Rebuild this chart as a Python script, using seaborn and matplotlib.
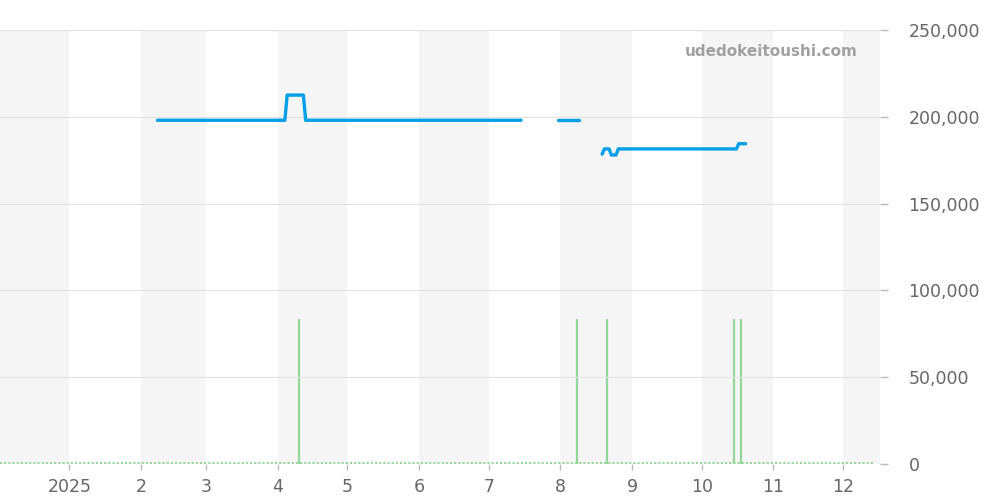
import matplotlib
matplotlib.use('Agg')
import matplotlib.pyplot as plt
import seaborn as sns
import pandas as pd

# price line, three separate runs (gaps between them)
seg_ids = [1, 1, 1, 1, 1, 1,
           2, 2,
           3, 3, 3, 3, 3, 3, 3, 3, 3]
price_dates = ['2025-02-08', '2025-04-04', '2025-04-05', '2025-04-12', '2025-04-13', '2025-07-15',
               '2025-07-31', '2025-08-09',
               '2025-08-19', '2025-08-20', '2025-08-22', '2025-08-23', '2025-08-25', '2025-08-26',
               '2025-10-16', '2025-10-17', '2025-10-20']
prices = [198000, 198000, 212500, 212500, 198000, 198000,
          198000, 198000,
          178500, 181500, 181500, 178000, 178000, 181500,
          181500, 184500, 184500]

# trade volume spikes
volume_dates = ['2025-04-10', '2025-08-08', '2025-08-21', '2025-10-15', '2025-10-18']
volumes = [1, 1, 1, 1, 1]

month_ticks = ['2025-01-01', '2025-02-01', '2025-03-01', '2025-04-01', '2025-05-01', '2025-06-01',
               '2025-07-01', '2025-08-01', '2025-09-01', '2025-10-01', '2025-11-01', '2025-12-01']
month_labels = ['2025', '2', '3', '4', '5', '6', '7', '8', '9', '10', '11', '12']
y_ticks = [0, 50000, 100000, 150000, 200000, 250000]

df = pd.DataFrame({'date': pd.to_datetime(price_dates), 'price': prices, 'seg': seg_ids})
vol = pd.DataFrame({'date': pd.to_datetime(volume_dates), 'volume': volumes})

sns.set_style('white')
plt.rcParams['font.family'] = ['DejaVu Sans']

fig = plt.figure(figsize=(10, 5), dpi=100)
ax = fig.add_axes([0.0, 0.072, 0.88, 0.868])

x0 = pd.Timestamp('2024-12-02')
x1 = pd.Timestamp('2025-12-17')

# volume axis sits underneath and carries the month bands
ax2 = ax.twinx()
band_starts = pd.date_range('2024-12-01', '2025-12-01', freq='2MS')
for s in band_starts:
    e = s + pd.offsets.MonthBegin(1)
    ax2.axvspan(max(s, x0), min(e, x1), color='#f5f5f5', zorder=0, lw=0)

ax2.vlines(vol['date'], 0, vol['volume'], color='#93d69a', lw=1.6, zorder=2)
ax2.plot([x0, pd.Timestamp('2025-12-14')], [0.004, 0.004], color='#93d69a', lw=1.5,
         ls=(0, (1, 1)), zorder=2)
ax2.set_ylim(0, 3)
ax2.set_xlim(x0, x1)
ax2.axis('off')

# price axis on top, transparent background
ax.set_zorder(ax2.get_zorder() + 1)
ax.patch.set_visible(False)
for yt in y_ticks:
    ax.axhline(yt, color='#e2e2e2', lw=0.8, zorder=1)

sns.lineplot(data=df, x='date', y='price', units='seg', estimator=None,
             color='#00a0e9', lw=2.4, ax=ax, zorder=3)

ax.set_xlim(x0, x1)
ax.set_ylim(0, 250000)
ax.yaxis.tick_right()
ax.set_yticks(y_ticks)
ax.set_yticklabels([f'{v:,}' for v in y_ticks])
ax.set_xticks(pd.to_datetime(month_ticks))
ax.set_xticklabels(month_labels)
ax.set_xlabel('')
ax.set_ylabel('')
ax.tick_params(axis='y', colors='#bbbbbb', labelcolor='#666666', labelsize=12.5,
               length=5.5, width=1, pad=15, right=True, left=False)
ax.tick_params(axis='x', colors='#bbbbbb', labelcolor='#666666', labelsize=12.5,
               length=4, width=1, pad=6, bottom=True)
for sp in ax.spines.values():
    sp.set_visible(False)

ax.text(0.975, 0.95, 'udedokeitoushi.com', transform=ax.transAxes, ha='right', va='center',
        fontsize=11, fontweight='bold', color='#a0a0a0', zorder=5)

fig.savefig('out.png', dpi=100)
